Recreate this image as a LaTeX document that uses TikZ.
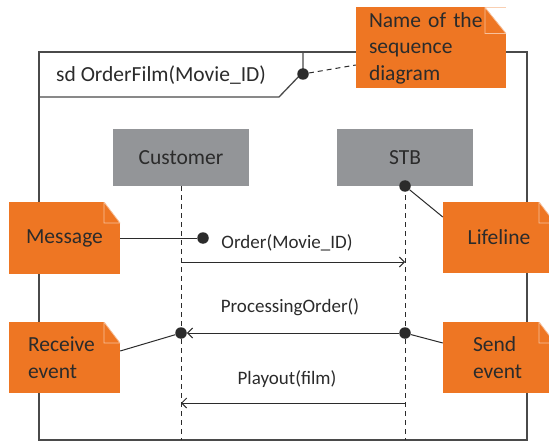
\documentclass[tikz,border=0pt]{standalone}
\usepackage{fontspec}
\setmainfont{Carlito}
\usetikzlibrary{arrows.meta,calc}
\definecolor{noteorange}{HTML}{EE7623}
\definecolor{boxgray}{HTML}{939598}
\definecolor{ink}{HTML}{2B2B2B}
\definecolor{framegray}{HTML}{4A4A4A}
\begin{document}
\begin{tikzpicture}[x=1pt,y=-1pt,
  font=\fontsize{21.5}{26.5}\selectfont, text=ink,
  % orange note with a folded top-right corner (#1 fold width, #2 fold height)
  notebox/.style 2 args={rectangle, fill=noteorange, inner ysep=0pt,
    path picture={
      \fill[white] ([xshift=-#1pt]path picture bounding box.north east)
        -- (path picture bounding box.north east)
        -- ([yshift=-#2pt]path picture bounding box.north east) -- cycle;
      \filldraw[fill=noteorange, draw=white!55!noteorange, line width=0.8pt]
        ([xshift=-#1pt]path picture bounding box.north east)
        -- ([xshift=-#1pt,yshift=-#2pt]path picture bounding box.north east)
        -- ([yshift=-#2pt]path picture bounding box.north east) -- cycle;
    }},
  actor/.style={rectangle, fill=boxgray, minimum width=136pt, minimum height=57pt, inner sep=0pt},
  lifeline/.style={draw=ink, line width=1pt, dash pattern=on 5pt off 4pt},
  msg/.style={draw=ink, line width=1pt, -{Straight Barb[length=5pt,width=10pt,line width=1pt]}},
  label/.style={font=\fontsize{19}{22}\selectfont, inner sep=0pt},
  dot/.style={circle, fill=ink, minimum size=11.5pt, inner sep=0pt},
  pointer/.style={draw=ink, line width=1pt},
]
\useasboundingbox (0,0) rectangle (549,441);

% frame and its name tab
\draw[framegray, line width=1.3pt] (39,52) rectangle (527,440);
\draw[framegray, line width=1.3pt] (39,52) -- (303,52) -- (303,72) -- (279,97) -- (39,97);
\node[anchor=west, inner sep=0pt] (title) at (56,75) {sd OrderFilm(Movie\_ID)};

% lifeline heads
\node[actor] (cust) at (181,157.5) {Customer};
\node[actor] (stb) at (405,157.5) {STB};
\coordinate (bottom) at (0,440);
\draw[lifeline] (cust.south) -- (cust.south |- bottom);
\draw[lifeline] (stb.south) -- (stb.south |- bottom);

% messages
\coordinate (m1a) at (181,262);
\coordinate (m1b) at (405,262);
\draw[msg] (m1a) -- (m1b);
\node[label] (l1) at (287,243) {Order(Movie\_ID)};

\node[dot] (senddot) at (405,333) {};
\node[dot] (recvdot) at (181,333) {};
\draw[msg] (senddot) -- (recvdot);
\node[label] (l2) at (290,307) {ProcessingOrder()};

\coordinate (m3a) at (405,403);
\coordinate (m3b) at (181,403);
\draw[msg] (m3a) -- (m3b);
\node[label] (l3) at (287,379) {Playout(film)};

% annotation notes
\node[notebox={21}{26}, minimum width=150pt, minimum height=81pt, text width=124pt,
  inner xsep=13pt, align=left] (namenote) at (431,48) {Name of the\\sequence\\diagram};
\node[notebox={16}{21}, minimum width=111pt, minimum height=72pt, inner xsep=0pt] (msgnote) at (64.5,238) {Message};
\node[notebox={16}{21}, minimum width=112pt, minimum height=71pt, inner xsep=0pt] (lifenote) at (499,237.5) {Lifeline};
\node[notebox={16}{21}, minimum width=111pt, minimum height=71pt, text width=73pt,
  inner xsep=19pt, align=left] (recvnote) at (64.5,357.5) {Receive\\event};
\node[notebox={16}{21}, minimum width=112pt, minimum height=71pt, text width=52pt,
  inner xsep=30pt, align=left] (sendnote) at (499,357.5) {Send\\event};

% pointers from notes to the diagram elements
\node[dot] (tabdot) at (303,74) {};
\draw[pointer, dash pattern=on 5pt off 4pt] (tabdot) -- (namenote.west |- 0,65);

\node[dot] (msgdot) at (203,238) {};
\draw[pointer] (msgnote.east) -- (msgdot);

\node[dot] (stbdot) at (405,186) {};
\draw[pointer] (stbdot) -- (lifenote.west |- 0,217);

\draw[pointer] (recvnote.east |- 0,351) -- (recvdot);
\draw[pointer] (senddot) -- (sendnote.west |- 0,343);
\end{tikzpicture}
\end{document}
